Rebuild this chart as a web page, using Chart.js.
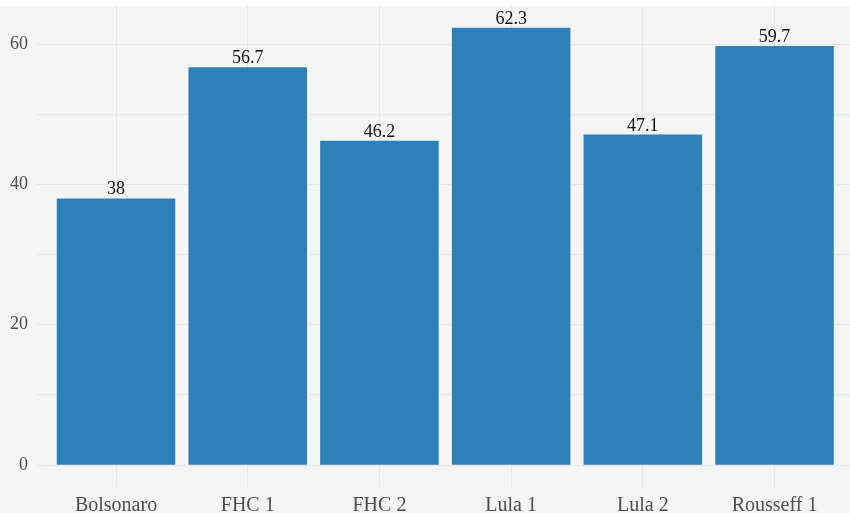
<!DOCTYPE html>
<html>
<head>
<meta charset="utf-8">
<script src="https://cdn.jsdelivr.net/npm/chart.js@4/dist/chart.umd.min.js"></script>
<style>
  html, body { margin: 0; padding: 0; background: #ffffff; }
  #wrap { width: 850px; height: 513px; }
</style>
</head>
<body>
<div id="wrap"><canvas id="myChart" width="850" height="513"></canvas></div>
<script>
const categories = ["Bolsonaro", "FHC 1", "FHC 2", "Lula 1", "Lula 2", "Rousseff 1"];
const values = [38, 56.7, 46.2, 62.3, 47.1, 59.7];
const yTickLabels = [0, 20, 40, 60];

const serif = "'Liberation Serif', 'Times New Roman', serif";

let points = [];
for (let i = 0; i < values.length; i++) {
    points.push({ x: i, y: values[i] });
}

// grey figure background, with the thin white strip at the top
const bgPlugin = {
    id: 'bg',
    beforeDraw(chart) {
        const ctx = chart.ctx;
        ctx.save();
        ctx.fillStyle = '#f5f5f5';
        ctx.fillRect(0, 6, chart.width, chart.height - 6);
        ctx.restore();
    }
};

// numbers above bars
const valueLabels = {
    id: 'valueLabels',
    afterDatasetsDraw(chart) {
        const ctx = chart.ctx;
        const meta = chart.getDatasetMeta(0);
        ctx.save();
        ctx.font = "18px " + serif;
        ctx.fillStyle = '#111111';
        ctx.textAlign = 'center';
        ctx.textBaseline = 'alphabetic';
        meta.data.forEach((bar, i) => {
            ctx.fillText(String(values[i]), bar.x, bar.y - 4);
        });
        ctx.restore();
    }
};

new Chart("myChart", {
    type: "bar",
    data: {
        datasets: [{
            data: points,
            backgroundColor: '#2e80b8',
            borderWidth: 0,
            barPercentage: 0.9,
            categoryPercentage: 1.0
        }]
    },
    options: {
        responsive: false,
        animation: false,
        layout: { autoPadding: false, padding: { top: 6, left: 0, right: 0, bottom: 0 } },
        plugins: {
            legend: { display: false },
            tooltip: { enabled: false }
        },
        scales: {
            x: {
                type: 'linear',
                offset: false,
                min: -0.6,
                max: 5.573,
                border: { display: false },
                grid: { color: '#e6e6e6', lineWidth: 1, drawTicks: false, offset: false },
                ticks: {
                    stepSize: 1,
                    includeBounds: false,
                    autoSkip: false,
                    maxRotation: 0,
                    padding: 7,
                    color: '#4d4d4d',
                    font: { family: serif, size: 20 },
                    callback: (v) => categories[v] !== undefined ? categories[v] : ''
                },
                afterFit(scale) {
                    scale.height = 26;
                    scale.paddingLeft = 0;
                    scale.paddingRight = 0;
                }
            },
            y: {
                min: -3.115,
                max: 65.415,
                border: { display: false },
                grid: { color: '#e6e6e6', lineWidth: 1, drawTicks: false },
                ticks: {
                    stepSize: 10,
                    includeBounds: false,
                    padding: 9,
                    color: '#4d4d4d',
                    font: { family: serif, size: 18 },
                    callback: (v) => yTickLabels.includes(v) ? String(v) : ''
                },
                afterFit(scale) {
                    scale.width = 37;
                    scale.paddingTop = 0;
                    scale.paddingBottom = 0;
                }
            }
        }
    },
    plugins: [bgPlugin, valueLabels]
});
</script>
</body>
</html>
